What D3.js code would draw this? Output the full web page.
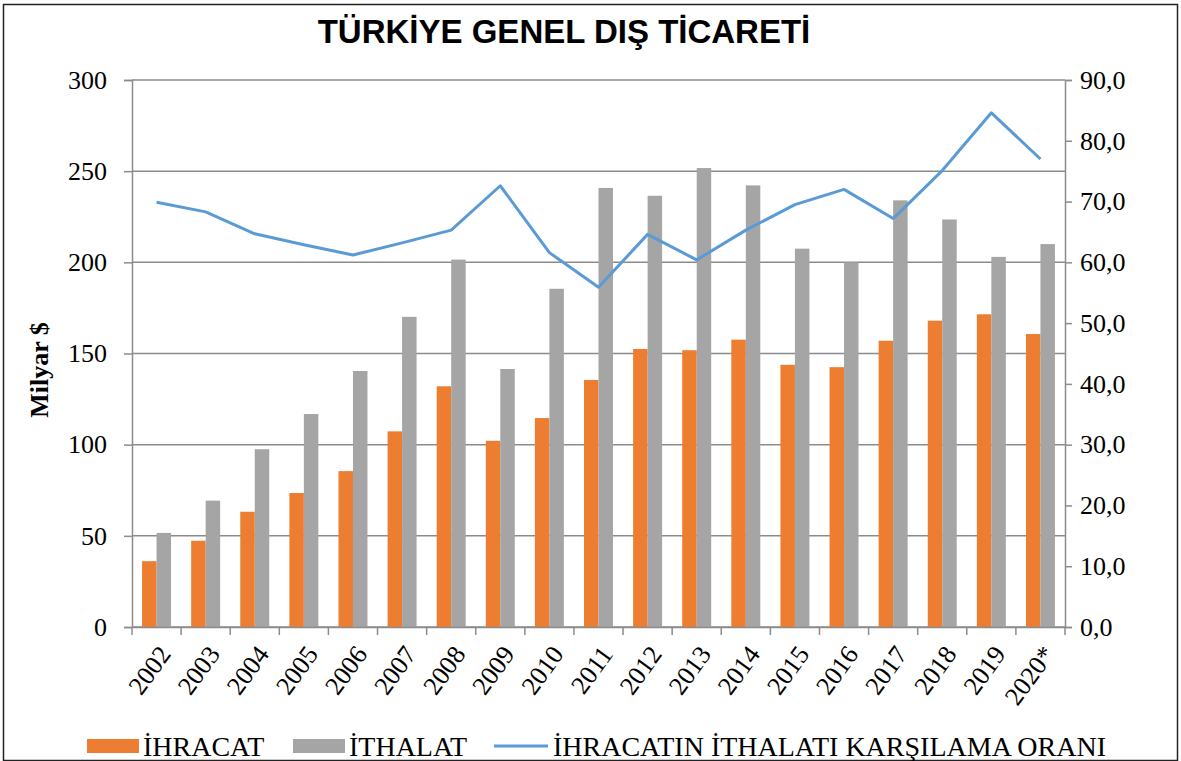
<!DOCTYPE html>
<html>
<head>
<meta charset="utf-8">
<script src="https://cdn.jsdelivr.net/npm/d3@7"></script>
<style>
  body { margin: 0; background: #fff; }
  svg text { fill: #000; }
</style>
</head>
<body>
<div id="gr"></div>
<script>
var years = ["2002", "2003", "2004", "2005", "2006", "2007", "2008", "2009", "2010", "2011",
  "2012", "2013", "2014", "2015", "2016", "2017", "2018", "2019", "2020*"];
var ihracat = [36.1, 47.3, 63.2, 73.5, 85.5, 107.3, 132.0, 102.1, 114.6, 135.5,
  152.5, 151.8, 157.6, 143.8, 142.5, 157.0, 168.0, 171.5, 160.7];
var ithalat = [51.6, 69.3, 97.5, 116.8, 140.4, 170.1, 201.5, 141.5, 185.5, 240.8,
  236.5, 251.7, 242.2, 207.5, 200.0, 234.0, 223.5, 203.0, 210.0];
var oran = [69.9, 68.3, 64.7, 62.9, 61.2, 63.2, 65.3, 72.6, 61.6, 55.9,
  64.6, 60.4, 65.3, 69.5, 72.0, 67.2, 75.1, 84.6, 77.0];
var leftTicks = [0, 50, 100, 150, 200, 250, 300];
var rightTicks = [0, 10, 20, 30, 40, 50, 60, 70, 80, 90];

var W = 1181, H = 761;
var margin = { left: 132, right: 116, top: 80, bottom: 134 };
var width = W - margin.left - margin.right,
  height = H - margin.top - margin.bottom;

var serif = "'Liberation Serif', 'Times New Roman', serif";
var gridCol = "#8c8c8c";

var svg = d3.select("#gr").append("svg")
  .attr("width", W)
  .attr("height", H);

svg.append("rect")
  .attr("x", 3.5).attr("y", 4.5)
  .attr("width", W - 7).attr("height", H - 5)
  .attr("fill", "none").attr("stroke", "#222").attr("stroke-width", 1.5);

svg.append("text")
  .attr("x", 564).attr("y", 43)
  .attr("text-anchor", "middle")
  .style("font-family", "'Liberation Sans Narrow', 'Arial Narrow', 'Liberation Sans', sans-serif")
  .style("font-weight", "bold")
  .style("font-size", "33px")
  .text("TÜRKİYE GENEL DIŞ TİCARETİ");

var g = svg.append("g")
  .attr("transform", "translate(" + margin.left + "," + margin.top + ")");

var x0 = d3.scaleBand().domain(years).range([0, width]).paddingInner(0.41).paddingOuter(0.205);
var x1 = d3.scaleBand().domain(["ihr", "ith"]).range([0, x0.bandwidth()]);
var yL = d3.scaleLinear().domain([0, 300]).range([height, 0]);
var yR = d3.scaleLinear().domain([0, 90]).range([height, 0]);

// gridlines
g.selectAll(".grid").data(leftTicks).enter().append("line")
  .attr("x1", 0).attr("x2", width)
  .attr("y1", function (d) { return yL(d); })
  .attr("y2", function (d) { return yL(d); })
  .attr("stroke", gridCol).attr("stroke-width", 1.5);

// bars
var rows = years.map(function (y, i) { return { year: y, ihr: ihracat[i], ith: ithalat[i], oran: oran[i] }; });
var grp = g.selectAll(".yr").data(rows).enter().append("g")
  .attr("transform", function (d) { return "translate(" + x0(d.year) + ",0)"; });
grp.append("rect")
  .attr("x", x1("ihr")).attr("width", x1.bandwidth())
  .attr("y", function (d) { return yL(d.ihr); })
  .attr("height", function (d) { return height - yL(d.ihr); })
  .attr("fill", "#ED7D31");
grp.append("rect")
  .attr("x", x1("ith")).attr("width", x1.bandwidth())
  .attr("y", function (d) { return yL(d.ith); })
  .attr("height", function (d) { return height - yL(d.ith); })
  .attr("fill", "#A5A5A5");

// axes
var leftAxis = d3.axisLeft(yL).tickValues(leftTicks).tickSize(8).tickPadding(17);
var la = g.append("g").call(leftAxis);
var rightAxis = d3.axisRight(yR).tickValues(rightTicks).tickSize(7).tickPadding(8)
  .tickFormat(function (d) { return d3.format(".1f")(d).replace(".", ","); });
var ra = g.append("g").attr("transform", "translate(" + width + ",0)").call(rightAxis);

var bottomAxis = d3.axisBottom(x0).tickSize(0).tickFormat("");
var ba = g.append("g").attr("transform", "translate(0," + height + ")").call(bottomAxis);
var step = x0.step();
ba.selectAll(".bt").data(d3.range(years.length + 1)).enter().append("line")
  .attr("x1", function (d) { return d * step; })
  .attr("x2", function (d) { return d * step; })
  .attr("y1", 0).attr("y2", 8)
  .attr("stroke", gridCol).attr("stroke-width", 1.5);

[la, ra, ba].forEach(function (a) {
  a.selectAll("path.domain").attr("stroke", gridCol).attr("stroke-width", 1.5);
  a.selectAll(".tick line").attr("stroke", gridCol).attr("stroke-width", 1.5);
  a.selectAll(".tick text").style("font-family", serif).style("font-size", "26px").attr("fill", "#000");
});

// rotated year labels
g.selectAll(".xl").data(years).enter().append("text")
  .attr("transform", function (d) {
    return "translate(" + (x0(d) + x0.bandwidth() / 2 + 8) + "," + (height + 22) + ") rotate(-54)";
  })
  .attr("text-anchor", "end")
  .attr("dy", "0.35em")
  .style("font-family", serif)
  .style("font-size", "26px")
  .text(function (d) { return d; });

// ratio line
var line = d3.line()
  .x(function (d) { return x0(d.year) + x0.bandwidth() / 2; })
  .y(function (d) { return yR(d.oran); });
g.append("path").datum(rows)
  .attr("d", line)
  .attr("fill", "none")
  .attr("stroke", "#5B9BD5")
  .attr("stroke-width", 3)
  .attr("stroke-linejoin", "round");

// y label
svg.append("text")
  .attr("transform", "translate(48,370) rotate(-90)")
  .attr("text-anchor", "middle")
  .style("font-family", serif)
  .style("font-weight", "bold")
  .style("font-size", "26px")
  .text("Milyar $");

// legend
var lg = svg.append("g").attr("transform", "translate(0,746)");
lg.append("rect").attr("x", 87).attr("y", -7).attr("width", 52).attr("height", 14).attr("fill", "#ED7D31");
lg.append("text").attr("x", 143).attr("y", 0).attr("dy", "0.35em")
  .style("font-family", serif).style("font-size", "28px").text("İHRACAT");
lg.append("rect").attr("x", 293).attr("y", -7).attr("width", 52).attr("height", 14).attr("fill", "#A5A5A5");
lg.append("text").attr("x", 349).attr("y", 0).attr("dy", "0.35em")
  .style("font-family", serif).style("font-size", "28px").text("İTHALAT");
lg.append("line").attr("x1", 494).attr("x2", 548).attr("y1", 0).attr("y2", 0)
  .attr("stroke", "#5B9BD5").attr("stroke-width", 3);
lg.append("text").attr("x", 553).attr("y", 0).attr("dy", "0.35em")
  .style("font-family", serif).style("font-size", "28px").text("İHRACATIN İTHALATI KARŞILAMA ORANI");
</script>
</body>
</html>
